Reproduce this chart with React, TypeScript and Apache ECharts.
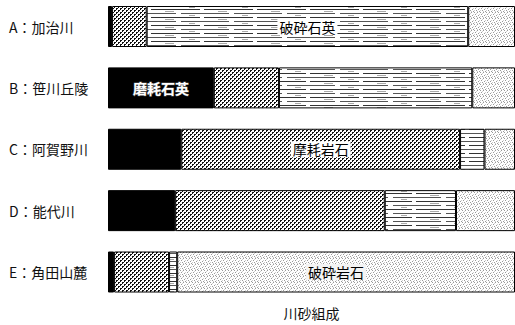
import React, { useEffect, useRef } from "react";
import * as echarts from "echarts";

const categories = ["A：加治川", "B：笹川丘陵", "C：阿賀野川", "D：能代川", "E：角田山麓"];
const seriesNames = ["摩耗石英", "摩耗岩石", "破砕石英", "破砕岩石"];
const roundedQuartz = [1, 26, 18, 16.5, 1.5];
const roundedRock = [8.5, 16, 68.5, 51.5, 13.5];
const brokenQuartz = [79, 47.5, 6, 17.5, 2];
const brokenRock = [11.5, 10.5, 7.5, 14.5, 83];
const axisName = "川砂組成";

function makeCanvas(w: number, h: number, draw: (ctx: CanvasRenderingContext2D) => void) {
  const c = document.createElement("canvas");
  c.width = w;
  c.height = h;
  const ctx = c.getContext("2d")!;
  ctx.fillStyle = "#fff";
  ctx.fillRect(0, 0, w, h);
  draw(ctx);
  return c;
}

export default function App() {
  const ref = useRef<HTMLDivElement>(null);
  useEffect(() => {
    if (!ref.current) return;
    const chart = echarts.init(ref.current, null, { renderer: "svg" });

    const coarse = makeCanvas(4, 4, (ctx) => {
      ctx.fillStyle = "#111";
      ctx.fillRect(0, 0, 2, 2);
      ctx.fillRect(2, 2, 2, 2);
      ctx.fillStyle = "#fff";
      ctx.fillRect(1, 1, 1, 1);
      ctx.fillRect(3, 3, 1, 1);
    });
    const lines = makeCanvas(53, 8, (ctx) => {
      ctx.fillStyle = "#333";
      ctx.fillRect(0, 1, 41, 1);
      ctx.fillRect(45, 1, 8, 1);
      ctx.fillStyle = "#555";
      ctx.fillRect(0, 5, 17, 1);
      ctx.fillRect(22, 5, 31, 1);
      ctx.fillStyle = "#aaa";
      ctx.fillRect(6, 3, 9, 1);
      ctx.fillRect(30, 7, 6, 1);
    });
    const light = makeCanvas(6, 6, (ctx) => {
      ctx.fillStyle = "#9a9a9a";
      ctx.fillRect(0, 0, 1, 1);
      ctx.fillRect(3, 0, 1, 1);
      ctx.fillRect(1, 2, 1, 1);
      ctx.fillRect(4, 3, 1, 1);
      ctx.fillRect(2, 4, 1, 1);
      ctx.fillRect(5, 5, 1, 1);
      ctx.fillStyle = "#cfcfcf";
      ctx.fillRect(2, 1, 1, 1);
      ctx.fillRect(5, 2, 1, 1);
      ctx.fillRect(0, 4, 1, 1);
      ctx.fillRect(3, 5, 1, 1);
    });

    const pat = (c: HTMLCanvasElement) => ({
      image: c,
      repeat: "repeat",
      imageWidth: c.width,
      imageHeight: c.height,
    });

    const baseLabel = {
      show: true,
      position: "inside",
      fontSize: 14,
      color: "#000",
      fontFamily: "Noto Sans CJK JP",
    };

    const withLabel = (arr: number[], idx: number, text: string, extra: any) =>
      arr.map((v, i) =>
        i === idx
          ? { value: v, label: { ...baseLabel, formatter: text, ...extra } }
          : { value: v }
      );

    const common = {
      type: "bar",
      stack: "total",
      barWidth: 41,
      itemStyle: { borderColor: "#000", borderWidth: 1 },
    };

    chart.setOption({
      animation: false,
      grid: { left: 108, right: 0, top: 26.5, bottom: 52.5, containLabel: false },
      xAxis: {
        type: "value",
        min: 0,
        max: 100,
        axisLine: { show: false },
        axisTick: { show: false },
        axisLabel: { show: false },
        splitLine: { show: false },
        name: axisName,
        nameLocation: "middle",
        nameGap: 34,
        nameTextStyle: { fontSize: 14, color: "#111", fontFamily: "Noto Sans CJK JP" },
      },
      yAxis: {
        type: "category",
        data: categories,
        inverse: true,
        boundaryGap: false,
        axisLine: { show: false },
        axisTick: { show: false },
        axisLabel: {
          align: "left",
          margin: 99,
          fontSize: 14,
          color: "#111",
          fontFamily: "Noto Sans CJK JP",
        },
      },
      series: [
        {
          ...common,
          name: seriesNames[0],
          itemStyle: { ...common.itemStyle, color: "#000" },
          data: withLabel(roundedQuartz, 1, "磨耗石英", {
            color: "#fff",
            fontWeight: "bold",
            textBorderColor: "#555",
            textBorderWidth: 1,
          }),
        },
        {
          ...common,
          name: seriesNames[1],
          itemStyle: { ...common.itemStyle, color: pat(coarse) },
          data: withLabel(roundedRock, 2, "摩耗岩石", {
            backgroundColor: "#fff",
            padding: [1, 2],
          }),
        },
        {
          ...common,
          name: seriesNames[2],
          itemStyle: { ...common.itemStyle, color: pat(lines) },
          data: withLabel(brokenQuartz, 0, "破砕石英", {
            backgroundColor: "#fff",
            padding: [1, 2],
          }),
        },
        {
          ...common,
          name: seriesNames[3],
          itemStyle: { ...common.itemStyle, color: pat(light) },
          data: withLabel(brokenRock, 4, "破砕岩石", {
            backgroundColor: "#f4f4f4",
            padding: [1, 2],
            offset: [-10, 0],
          }),
        },
      ],
    });
    return () => chart.dispose();
  }, []);
  return (
    <div
      ref={ref}
      style={{ position: "absolute", left: 0, top: 0, width: 515, height: 325 }}
    />
  );
}
